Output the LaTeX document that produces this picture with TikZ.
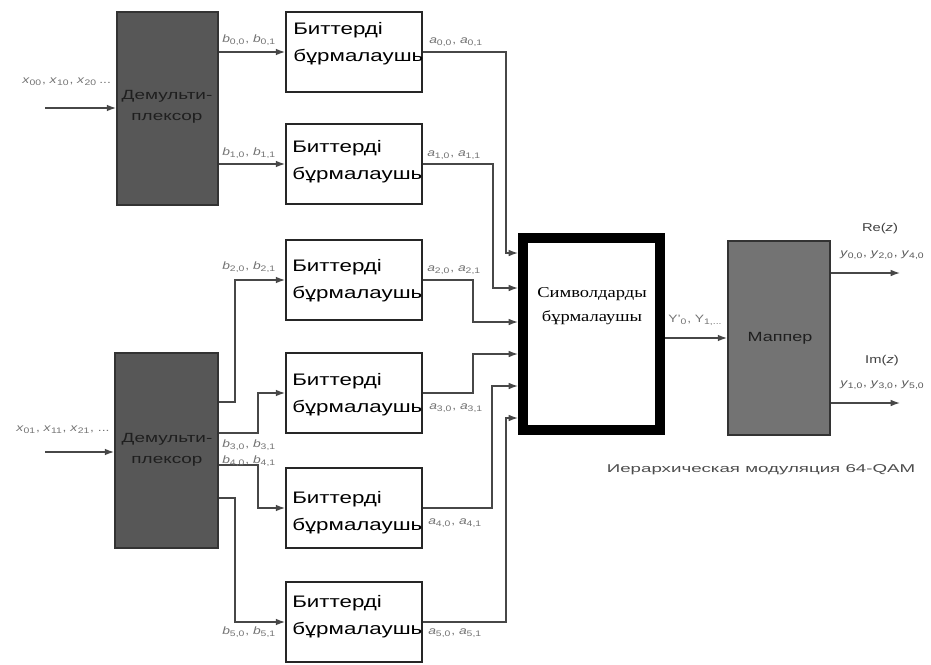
\documentclass[tikz,border=0pt]{standalone}
\usepackage{fontspec}
\setmainfont{Liberation Sans}
\newfontfamily\serifru{Liberation Serif}
\usetikzlibrary{arrows.meta}

% horizontally widened text
\newcommand\hx[2][1.34]{\scalebox{#1}[1]{#2}}
% symbol with subscript
\newcommand\sy[2]{\textit{#1}\textsubscript{#2}}

\begin{document}
\begin{tikzpicture}[x=0.75pt,y=-0.75pt,
  demux/.style={draw=black!80, line width=1.3pt, fill=black!66, inner sep=0},
  mapbox/.style={draw=black!80, line width=1.3pt, fill=black!55, inner sep=0},
  ilv/.style={draw=black!85, line width=1.3pt, fill=white, inner sep=0,
              minimum width=102pt, minimum height=60pt},
  symbox/.style={draw=black, line width=7.5pt, fill=white, inner sep=0,
              minimum width=102.75pt, minimum height=144pt},
  ilvtext/.style={anchor=west, align=left, inner sep=0, text=black,
              font=\fontsize{12.5}{20}\selectfont},
  darktext/.style={align=center, inner sep=0, text=black!88,
              font=\fontsize{10}{16}\selectfont},
  conn/.style={draw=black!72, line width=1pt, -{Latex[length=7pt,width=5pt]}},
  lbl/.style={inner sep=0, text=black!55, font=\fontsize{8}{9}\selectfont},
  olbl/.style={inner sep=0, text=black!75, font=\fontsize{8.5}{10}\selectfont}]
\useasboundingbox (0,0) rectangle (931,664);

% demultiplexers
\node[demux, minimum width=75.75pt, minimum height=144.75pt] (dmx1) at (167.5,108.5) {};
\node[darktext] (dmx1t) at (167,107) {\hx[1.42]{Демульти-}\\\hx[1.42]{плексор}};
\node[demux, minimum width=77.25pt, minimum height=146.25pt] (dmx2) at (166.5,450.5) {};
\node[darktext] (dmx2t) at (167,450) {\hx[1.42]{Демульти-}\\\hx[1.42]{плексор}};

% bit interleavers
\node[ilv] (bi1) at (354,52) {};
\node[ilv] (bi2) at (354,164) {};
\node[ilv] (bi3) at (354,280) {};
\node[ilv] (bi4) at (354,393) {};
\node[ilv] (bi5) at (354,508) {};
\node[ilv] (bi6) at (354,622) {};
\node[ilvtext] (bt1) at (293,44)  {\hx{Биттерді}\\\hx{бұрмалаушь}};
\node[ilvtext] (bt2) at (292,162) {\hx{Биттерді}\\\hx{бұрмалаушь}};
\node[ilvtext] (bt3) at (292,281) {\hx{Биттерді}\\\hx{бұрмалаушь}};
\node[ilvtext] (bt4) at (292,395) {\hx{Биттерді}\\\hx{бұрмалаушь}};
\node[ilvtext] (bt5) at (292,513) {\hx{Биттерді}\\\hx{бұрмалаушь}};
\node[ilvtext] (bt6) at (292,617) {\hx{Биттерді}\\\hx{бұрмалаушь}};

% symbol interleaver
\node[symbox] (sym) at (591.5,334) {};
\node[align=center, inner sep=0, font=\serifru\fontsize{11.3}{18}\selectfont] (symt) at (592,306)
  {\hx[1.23]{Символдарды}\\\hx[1.23]{бұрмалаушы}};

% mapper
\node[mapbox, minimum width=76.5pt, minimum height=145.5pt] (map) at (779,338) {};
\node[darktext] (mapt) at (780,338) {\hx[1.35]{Маппер}};

% inputs
\coordinate (xin1) at (45,108);
\coordinate (xin2) at (45,452);
\draw[conn] (xin1) -- (dmx1.west |- xin1);
\draw[conn] (xin2) -- (dmx2.west |- xin2);
\node[lbl, anchor=west] (xl1) at (22,82) {\hx[1.3]{\sy{x}{00}, \sy{x}{10}, \sy{x}{20}\,...}};
\node[lbl, anchor=west] (xl2) at (16,430) {\hx[1.3]{\sy{x}{01}, \sy{x}{11}, \sy{x}{21}, ...}};

% demultiplexer outputs
\draw[conn] (dmx1.east |- bi1.west) -- (bi1.west);
\draw[conn] (dmx1.east |- bi2.west) -- (bi2.west);
\draw[conn] (dmx2.east |- 0,402) -| (235,280) -- (bi3.west);
\draw[conn] (dmx2.east |- 0,433) -| (258,393) -- (bi4.west);
\draw[conn] (dmx2.east |- 0,465) -| (258,508) -- (bi5.west);
\draw[conn] (dmx2.east |- 0,498) -| (235,622) -- (bi6.west);
\node[lbl, anchor=west] (bl0) at (222,40)  {\hx[1.3]{\sy{b}{0,0}, \sy{b}{0,1}}};
\node[lbl, anchor=west] (bl1) at (222,153) {\hx[1.3]{\sy{b}{1,0}, \sy{b}{1,1}}};
\node[lbl, anchor=west] (bl2) at (222,267) {\hx[1.3]{\sy{b}{2,0}, \sy{b}{2,1}}};
\node[lbl, anchor=west] (bl3) at (222,445) {\hx[1.3]{\sy{b}{3,0}, \sy{b}{3,1}}};
\node[lbl, anchor=west] (bl4) at (222,461) {\hx[1.3]{\sy{b}{4,0}, \sy{b}{4,1}}};
\node[lbl, anchor=west] (bl5) at (222,632) {\hx[1.3]{\sy{b}{5,0}, \sy{b}{5,1}}};

% bit interleaver outputs into the symbol interleaver
\draw[conn] (bi1.east) -| (506,253) -- (sym.west |- 0,253);
\draw[conn] (bi2.east) -| (493,288) -- (sym.west |- 0,288);
\draw[conn] (bi3.east) -| (473,322) -- (sym.west |- 0,322);
\draw[conn] (bi4.east) -| (473,354) -- (sym.west |- 0,354);
\draw[conn] (bi5.east) -| (492,386) -- (sym.west |- 0,386);
\draw[conn] (bi6.east) -| (506,418) -- (sym.west |- 0,418);
\node[lbl, anchor=west] (al0) at (429,42)  {\hx[1.3]{\sy{a}{0,0}, \sy{a}{0,1}}};
\node[lbl, anchor=west] (al1) at (427,155) {\hx[1.3]{\sy{a}{1,0}, \sy{a}{1,1}}};
\node[lbl, anchor=west] (al2) at (427,270) {\hx[1.3]{\sy{a}{2,0}, \sy{a}{2,1}}};
\node[lbl, anchor=west] (al3) at (429,408) {\hx[1.3]{\sy{a}{3,0}, \sy{a}{3,1}}};
\node[lbl, anchor=west] (al4) at (428,523) {\hx[1.3]{\sy{a}{4,0}, \sy{a}{4,1}}};
\node[lbl, anchor=west] (al5) at (428,633) {\hx[1.3]{\sy{a}{5,0}, \sy{a}{5,1}}};

% symbol interleaver to mapper
\draw[conn] (sym.east |- map.west) -- (map.west);
\node[lbl, anchor=west] (yl) at (668,320) {\hx[1.3]{Y'\textsubscript{0}, Y\textsubscript{1,...}}};

% mapper outputs
\coordinate (re) at (900,273);
\coordinate (im) at (900,403);
\draw[conn] (map.east |- re) -- (re);
\draw[conn] (map.east |- im) -- (im);
\node[olbl] (rel) at (880,229) {\hx[1.3]{Re(\textit{z})}};
\node[olbl] (iml) at (882,361) {\hx[1.3]{Im(\textit{z})}};
\node[lbl, anchor=west, text=black!65] (yr) at (840,255) {\hx[1.3]{\sy{y}{0,0}, \sy{y}{2,0}, \sy{y}{4,0}}};
\node[lbl, anchor=west, text=black!65] (yi) at (840,385) {\hx[1.3]{\sy{y}{1,0}, \sy{y}{3,0}, \sy{y}{5,0}}};

% caption
\node[inner sep=0, text=black!70, font=\fontsize{8.5}{10}\selectfont] (cap) at (761,470)
  {\hx[1.65]{Иерархическая модуляция 64-QAM}};
\end{tikzpicture}
\end{document}
